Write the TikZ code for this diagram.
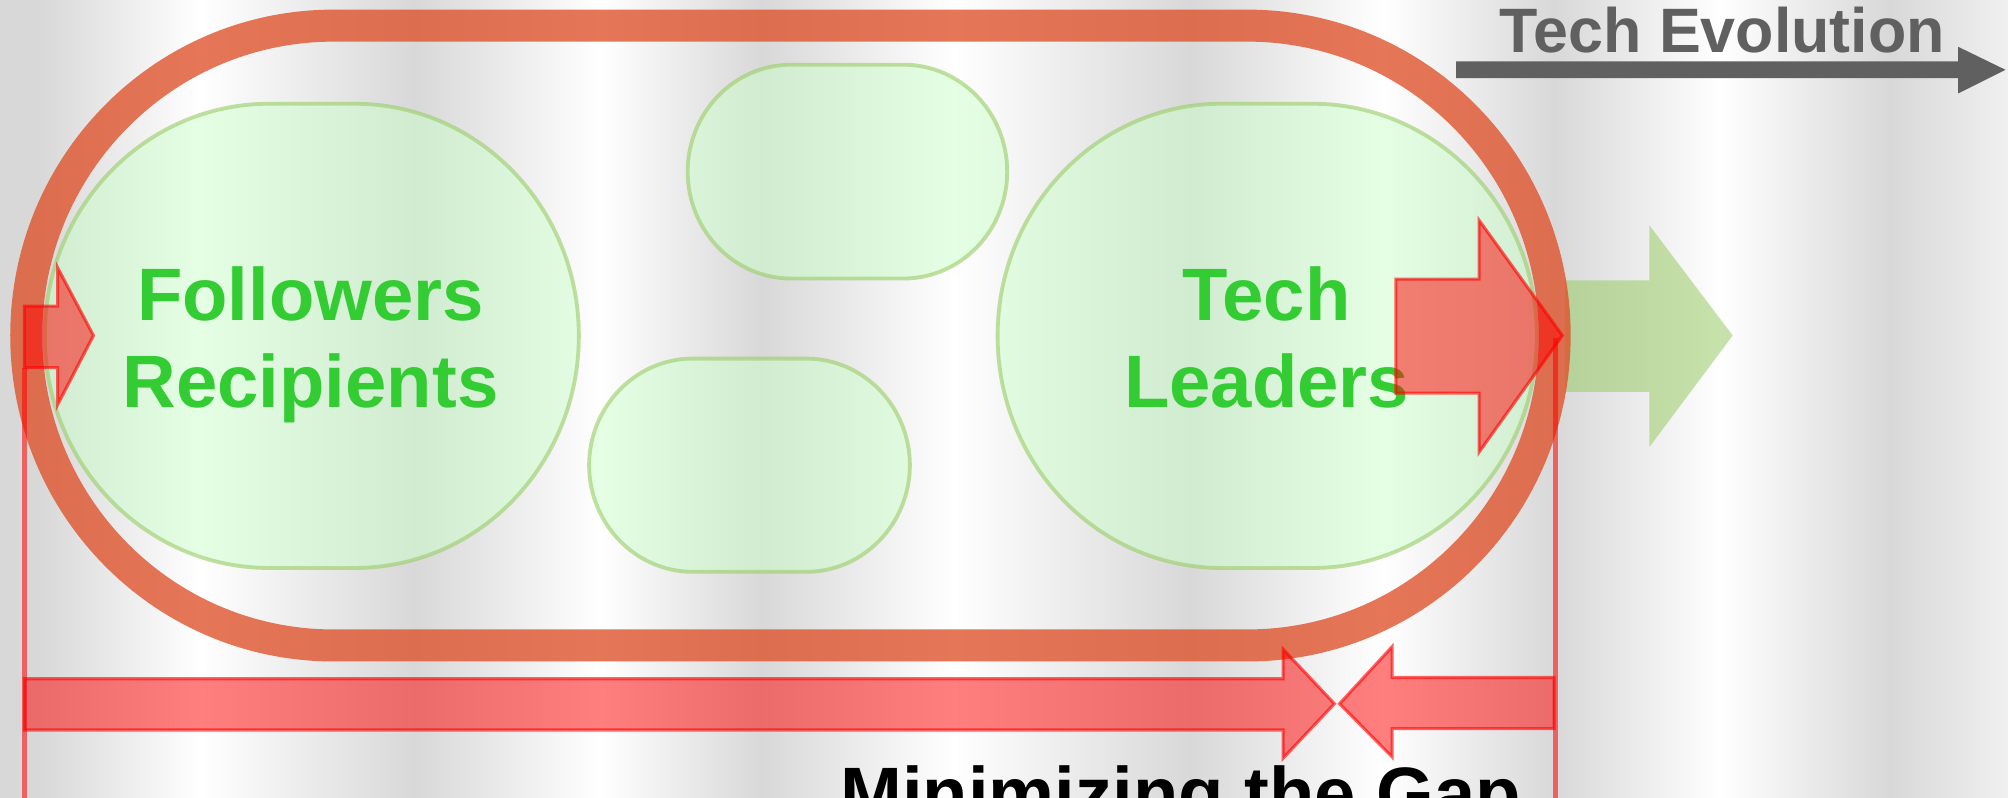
\documentclass[tikz,border=0pt]{standalone}
\usepackage{fontspec}
\setmainfont{Liberation Sans}
\definecolor{bgD}{RGB}{216,216,216}
\definecolor{bgE}{RGB}{240,240,240}
\definecolor{ringC}{RGB}{222,80,40}
\definecolor{gFill}{RGB}{204,255,204}
\definecolor{gLine}{RGB}{153,204,102}
\definecolor{txtG}{RGB}{51,204,51}
\definecolor{txtD}{RGB}{96,96,96}
% rounded shape with elliptical corners: x1 y1 x2 y2 rx ry
\newcommand\rrpath[6]{({#1+#5},#2) -- ({#3-#5},#2) .. controls ({#3-#5+0.5523*#5},#2) and (#3,{#2+#6-0.5523*#6}) .. (#3,{#2+#6}) -- (#3,{#4-#6}) .. controls (#3,{#4-#6+0.5523*#6}) and ({#3-#5+0.5523*#5},#4) .. ({#3-#5},#4) -- ({#1+#5},#4) .. controls ({#1+#5-0.5523*#5},#4) and (#1,{#4-#6+0.5523*#6}) .. (#1,{#4-#6}) -- (#1,{#2+#6}) .. controls (#1,{#2+#6-0.5523*#6}) and ({#1+#5-0.5523*#5},#2) .. cycle}
\tikzset{
  ring/.style={line width=12.5pt, draw=ringC, draw opacity=0.78},
  gshape/.style={line width=1.5pt, draw=gLine, draw opacity=0.6, fill=gFill, fill opacity=0.5},
  redarrow/.style={fill=red, fill opacity=0.5, draw=red, draw opacity=0.6, line width=1.2pt, line join=miter},
  greenarrow/.style={fill=gLine, fill opacity=0.55, draw=none},
  grayarrow/.style={fill=txtD, draw=none},
  redline/.style={draw=red, draw opacity=0.55, line width=2.2pt},
  lbl/.style={font=\fontsize{29pt}{34pt}\selectfont\bfseries, text=txtG, align=center, inner sep=0pt, anchor=base},
}
\begin{document}
\begin{tikzpicture}[x=0.5pt, y=-0.5pt]
\useasboundingbox (0,0) rectangle (1568,623);
\clip (0,0) rectangle (1568,623);
% background stripes
\foreach \xa/\ca/\xb/\cb in {0/bgD/31/bgD, 31/bgD/156/white, 156/white/324/bgD, 324/bgD/469/white, 469/white/595/bgD, 595/bgD/745/white, 745/white/930/bgD, 930/bgD/1080/white, 1080/white/1214/bgD, 1214/bgD/1343/white, 1343/white/1476/bgD, 1476/bgD/1568/bgE}
  \shade[left color=\ca, right color=\cb] ({\xa-0.4},-2) rectangle ({\xb+0.4},630);
% green arrow behind ring
\path[greenarrow] (1222,219) -- (1288,219) -- (1288,176) -- (1353,262) -- (1288,349) -- (1288,306) -- (1222,306) -- cycle;
% outer ring
\draw[ring] \rrpath{20.5}{20}{1214}{504}{240}{242};
% green shapes
\draw[gshape] \rrpath{35}{81}{452}{443.5}{175}{181};
\draw[gshape] \rrpath{779}{81}{1200}{443.5}{175}{181};
\draw[gshape] \rrpath{537}{50.5}{786.5}{217.5}{81}{83.5};
\draw[gshape] \rrpath{460}{280}{710.5}{446.5}{81}{83.5};
% labels (base anchor = baseline of the last line)
\node[lbl] (fol) at (242.5,318) {Followers\\Recipients};
\node[lbl] (lead) at (989,318) {Tech\\Leaders};
% red lines
\draw[redline] (19,287) -- (19,640);
\draw[redline] (1214.5,264) -- (1214.5,640);
% red arrows
\filldraw[redarrow] (1090,218) -- (1155,218) -- (1155,172) -- (1220,262) -- (1155,353) -- (1155,307) -- (1090,307) -- cycle;
\filldraw[redarrow] (19,239) -- (45,239) -- (45,209) -- (73,262) -- (45,316) -- (45,287) -- (19,287) -- cycle;
\filldraw[redarrow] (19,530) -- (1002,530) -- (1002,507) -- (1042,549.5) -- (1002,592) -- (1002,570) -- (19,570) -- cycle;
\filldraw[redarrow] (1213.5,529) -- (1087,529) -- (1087,505) -- (1046,549.5) -- (1087,591) -- (1087,569) -- (1213.5,569) -- cycle;
% tech evolution
\path[grayarrow] (1137,48) -- (1529,48) -- (1529,36.5) -- (1566,54.5) -- (1529,73) -- (1529,61) -- (1137,61) -- cycle;
\node[font=\fontsize{24.5pt}{28pt}\selectfont\bfseries, text=txtD, inner sep=0pt, anchor=base] (evo) at (1345,41) {Tech Evolution};
% bottom caption (cut off by the lower edge, as in the reference)
\node[font=\fontsize{29pt}{34pt}\selectfont\bfseries, text=black, inner sep=0pt, anchor=base] (gap) at (922,640) {Minimizing the Gap};
\end{tikzpicture}
\end{document}
